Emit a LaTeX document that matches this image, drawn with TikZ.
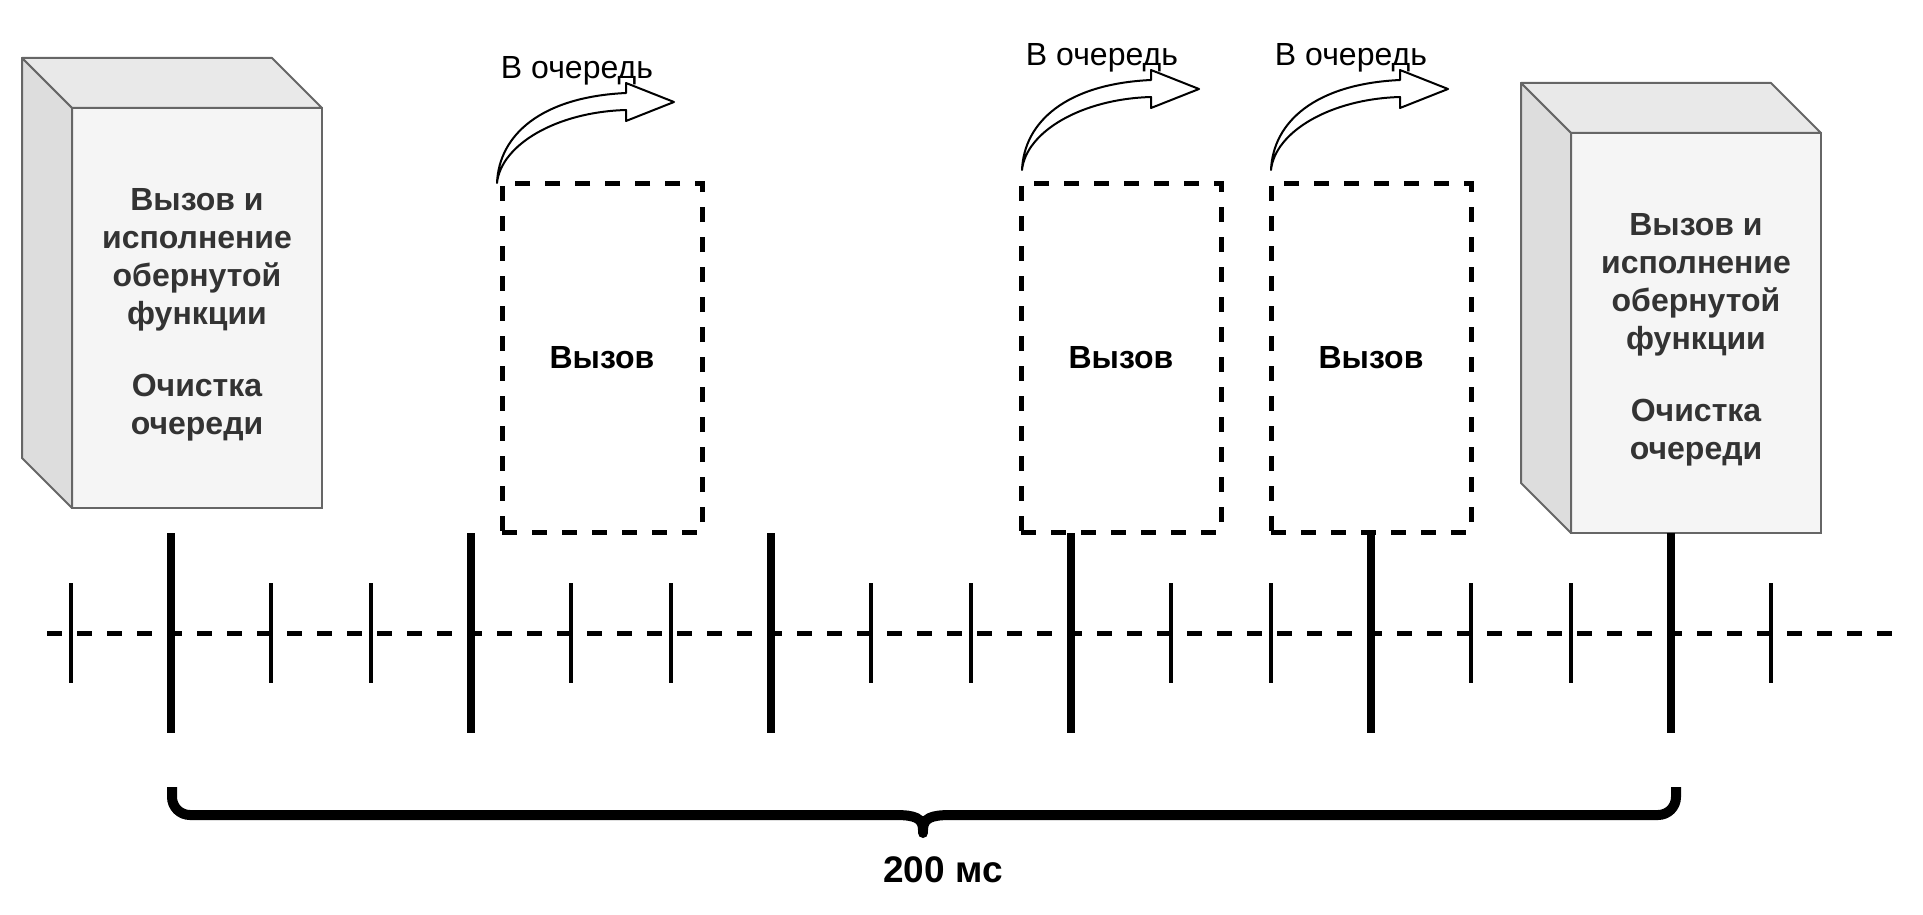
\documentclass[tikz,border=0pt]{standalone}
\usepackage{fontspec}
\setmainfont{Liberation Sans}
\usetikzlibrary{positioning}
\definecolor{cubeline}{HTML}{666666}
\definecolor{cubefront}{HTML}{F5F5F5}
\definecolor{cubetop}{HTML}{E9E9E9}
\definecolor{cubeside}{HTML}{DDDDDD}
\definecolor{cubetext}{HTML}{333333}

\begin{document}
\begin{tikzpicture}[x=1pt,y=-1pt]
\tikzstyle{front}=[rectangle, draw=cubeline, fill=cubefront, line width=2pt, outer sep=0pt, minimum width=250pt, minimum height=400pt]
\tikzstyle{cubelabel}=[align=center, text=cubetext, font=\fontsize{32}{38}\selectfont\bfseries]
\tikzstyle{face}=[draw=cubeline, line width=2pt, line join=round]
\tikzstyle{call}=[rectangle, draw, line width=5pt, dash pattern=on 15pt off 15pt, outer sep=0pt, minimum width=200pt, minimum height=348pt, font=\fontsize{32}{38}\selectfont\bfseries]
\tikzstyle{queue}=[draw, line width=2pt, fill=white, line join=round]
\tikzstyle{queuelabel}=[anchor=base, inner sep=0pt, font=\fontsize{32}{38}\selectfont]
\tikzstyle{timeline}=[line width=5pt, dash pattern=on 15pt off 15pt]
\tikzstyle{minortick}=[line width=4.5pt]
\tikzstyle{majortick}=[line width=8pt]
\tikzstyle{spanbrace}=[line width=10pt]
\tikzstyle{spanlabel}=[anchor=base, inner sep=0pt, font=\fontsize{37}{44}\selectfont\bfseries]

  \useasboundingbox (0,0) rectangle (1923,915);

  % cubes
  \node[front] (run1) at (197,308) {};
  \node[front] (run2) at (1696,333) {};
  \foreach \r in {run1,run2}{
    \filldraw[face, fill=cubetop] (\r.north west) -- ++(-50,-50) -- ++(250,0) -- (\r.north east) -- cycle;
    \filldraw[face, fill=cubeside] (\r.north west) -- ++(-50,-50) -- ++(0,400) -- (\r.south west) -- cycle;
    \node[cubelabel, yshift=-7pt] (t\r) at (\r) {Вызов и\\исполнение\\обернутой\\функции\\[34pt]Очистка\\очереди};
  }

  % calls
  \node[call] (call1) at (602,358) {Вызов};
  \node[call] (call2) at (1121,358) {Вызов};
  \node[call] (call3) [right=50pt of call2] {Вызов};

  \coordinate (q1) at (497,183);
  \coordinate (q2) at (1022,170);
  \coordinate (q3) at (1271,170);
  \foreach \q in {q1,q2,q3}{
    \filldraw[queue] (\q) .. controls +(2,-48) and +(-85,4) .. ++(129,-90)
      -- ++(0,-10) -- ++(48,19) -- ++(-48,19) -- ++(0,-11)
      .. controls +(-70,2) and +(4,-38) .. (\q) -- cycle;
    \path (\q) ++(80,-104) node[queuelabel] (l\q) {В очередь};
  }

  % time axis
  \coordinate (start) at (47,633);
  \coordinate (stop) at (1895,633);
  \draw[timeline] (start) -- (stop);
  \foreach \x in {71,271,371,571,671,871,971,1171,1271,1471,1571,1771}
    \draw[minortick] (\x,583) -- (\x,683);
  \foreach \x in {171,471,771,1071,1371,1671}
    \draw[majortick] (\x,533) -- (\x,733);

  % brace
  \coordinate (tip) at (923,830);
  \draw[spanbrace] (172,787) -- (172,797) .. controls (172,807) and (180,815) .. (190,815)
    -- (895,815) .. controls (915,815) and (923,818) .. (tip);
  \draw[spanbrace] (1676,787) -- (1676,797) .. controls (1676,807) and (1668,815) .. (1658,815)
    -- (951,815) .. controls (931,815) and (923,818) .. (tip);
  \draw[spanbrace, line cap=round] (923,824) -- (923,833);
  \node[spanlabel] (span) at (943,882) {200 мс};
\end{tikzpicture}
\end{document}
